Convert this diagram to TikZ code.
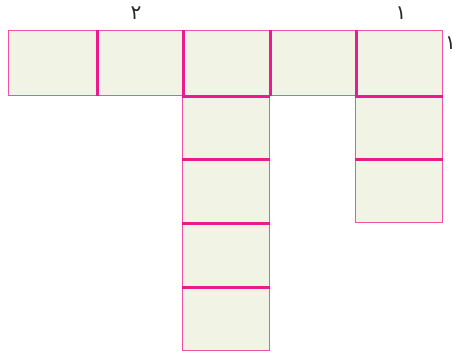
\documentclass[tikz,border=0pt]{standalone}
\usepackage{fontspec}
\TeXXeTstate=1
\newfontfamily\arabicfont[Script=Arabic]{DejaVu Sans}
\definecolor{cellfill}{HTML}{F1F4E4}
\definecolor{edge}{HTML}{EC1A8C}
\definecolor{edgelight}{HTML}{F050A5}
\begin{document}
\begin{tikzpicture}[x=1pt,y=-1pt,
  cell/.style={draw=edgelight,fill=cellfill,line width=1.3pt,inner sep=0pt,anchor=north west},
  inner/.style={draw=edge,line width=2.8pt},
  digit/.style={font=\arabicfont\fontsize{20}{20}\selectfont,text=black!85,inner sep=0pt}]
\useasboundingbox (0,0) rectangle (457,356);
% top row
\node[cell,minimum width=88pt,minimum height=65pt] (t1) at (8,30) {};
\node[cell,minimum width=86pt,minimum height=65pt] (t2) at (96,30) {};
\node[cell,minimum width=87pt,minimum height=65pt] (t3) at (182,30) {};
\node[cell,minimum width=86pt,minimum height=65pt] (t4) at (269,30) {};
\node[cell,minimum width=87pt,minimum height=65pt] (t5) at (355,30) {};
% middle column
\node[cell,minimum width=87pt,minimum height=63pt] (c1) at (182,95) {};
\node[cell,minimum width=87pt,minimum height=64pt] (c2) at (182,158) {};
\node[cell,minimum width=87pt,minimum height=64pt] (c3) at (182,222) {};
\node[cell,minimum width=87pt,minimum height=64pt] (c4) at (182,286) {};
% right column
\node[cell,minimum width=87pt,minimum height=63pt] (r1) at (355,95) {};
\node[cell,minimum width=87pt,minimum height=64pt] (r2) at (355,158) {};
% thick shared edges
\draw[inner] (t1.north east) -- (t1.south east);
\draw[inner] (t2.north east) -- (t2.south east);
\draw[inner] (t3.north east) -- (t3.south east);
\draw[inner] (t4.north east) -- (t4.south east);
\draw[inner] (t3.south west) -- (t3.south east);
\draw[inner] (t5.south west) -- (t5.south east);
\draw[inner] (c1.south west) -- (c1.south east);
\draw[inner] (c2.south west) -- (c2.south east);
\draw[inner] (c3.south west) -- (c3.south east);
\draw[inner] (r1.south west) -- (r1.south east);
% labels
\node[digit] (l2) at (136,13) {۲};
\node[digit] (l1) at (401,13) {۱};
\node[digit] (l3) at (450.5,43) {۱};
\end{tikzpicture}
\end{document}
